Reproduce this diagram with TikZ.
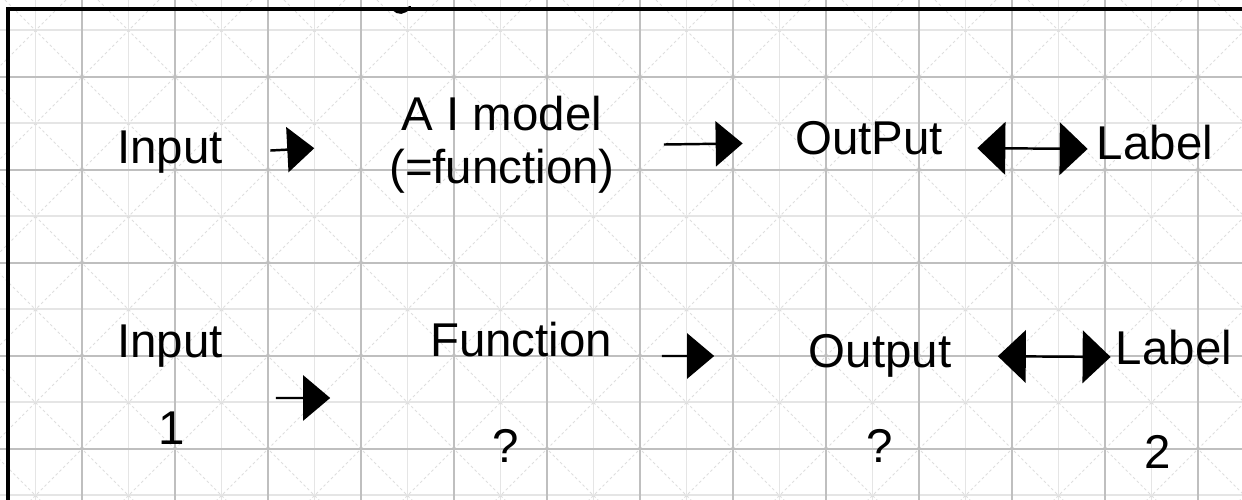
\documentclass[tikz,border=0pt]{standalone}
\usepackage{fontspec}
\setmainfont{Liberation Sans}
\usetikzlibrary{arrows.meta}

\begin{document}
\begin{tikzpicture}[
x=0.02cm, y=-0.02cm,
word/.style={inner sep=0pt, align=center, font=\fontsize{27}{30}\selectfont},
arr/.style={-{Triangle[length=0.54cm, width=0.9cm]}, line width=1.4pt},
both/.style={{Triangle[length=0.56cm, width=1.05cm]}-{Triangle[length=0.56cm, width=1.05cm]}, line width=1.4pt},
minor/.style={black!10, line width=0.8pt},
major/.style={black!25, line width=1.1pt},
diag/.style={black!13, line width=0.5pt, dash pattern=on 1.5pt off 1.5pt}
]
\useasboundingbox (0,0) rectangle (1242,500);
\fill[white] (0,0) rectangle (1242,500);
\begin{scope}
\clip (0,0) rectangle (1242,500);
\foreach \k in {0,...,12} \draw[minor] (35.5+93*\k,0) -- (35.5+93*\k,500);
\foreach \k in {0,...,5} \draw[minor] (0,30+93*\k) -- (1242,30+93*\k);
\foreach \k in {-6,...,13} \draw[diag] (5+93*\k-600,-600) -- (5+93*\k+1400,1400);
\foreach \k in {-2,...,17} \draw[diag] (159+93*\k+600,-600) -- (159+93*\k-1400,1400);
\foreach \k in {-1,...,12} \draw[major] (82+93*\k,0) -- (82+93*\k,500);
\foreach \k in {0,...,4} \draw[major] (0,77+93*\k) -- (1242,77+93*\k);
\end{scope}
\draw[line width=1.9pt] (8,500) -- (8,9) -- (1242,9);
\draw[line width=1.5pt, line cap=round] (393,9) .. controls (398,14) and (404,14) .. (410,7);

\node[word, minimum width=2.88cm] (in1) at (170,152) {Input};
\node[word, minimum width=5.02cm] (ai) at (502,145) {A I model\\(=function)};
\node[word, minimum width=3.76cm] (out1) at (869,138) {OutPut};
\node[word] (lab1) at (1155,143) {Label};

\node[word, minimum width=2.5cm] (in2) at (170,346) {Input};
\node[word] (one) at (172,428) {1};
\node[word, minimum width=4.54cm] (fn) at (521,340) {Function};
\node[word] (q1) at (506,446) {?};
\node[word, minimum width=3.3cm] (out2) at (880,356) {Output};
\node[word] (q2) at (880,446) {?};
\node[word] (lab2) at (1174,348) {Label};
\node[word] (two) at (1158,452) {2};

\draw[arr, shorten <=0.56cm, shorten >=1.24cm] (in1.east) -- (ai.west);
\draw[arr, shorten <=0.72cm, shorten >=0.64cm] (ai.east) -- ([yshift=-0.1cm]out1.west);
\draw[both, shorten <=0.28cm, shorten >=0.18cm] ([yshift=-0.2cm]out1.east) -- ([yshift=-0.12cm]lab1.west);

\draw[arr, shorten <=0.86cm, shorten >=1.54cm] ([yshift=-1.04cm]in2.east) -- ([yshift=-1.16cm]fn.west);
\draw[arr, shorten <=0.54cm, shorten >=1.66cm] ([yshift=-0.32cm]fn.east) -- (out2.west);
\draw[both, shorten <=0.7cm, shorten >=0.1cm] (out2.east) -- ([yshift=-0.18cm]lab2.west);
\end{tikzpicture}
\end{document}
